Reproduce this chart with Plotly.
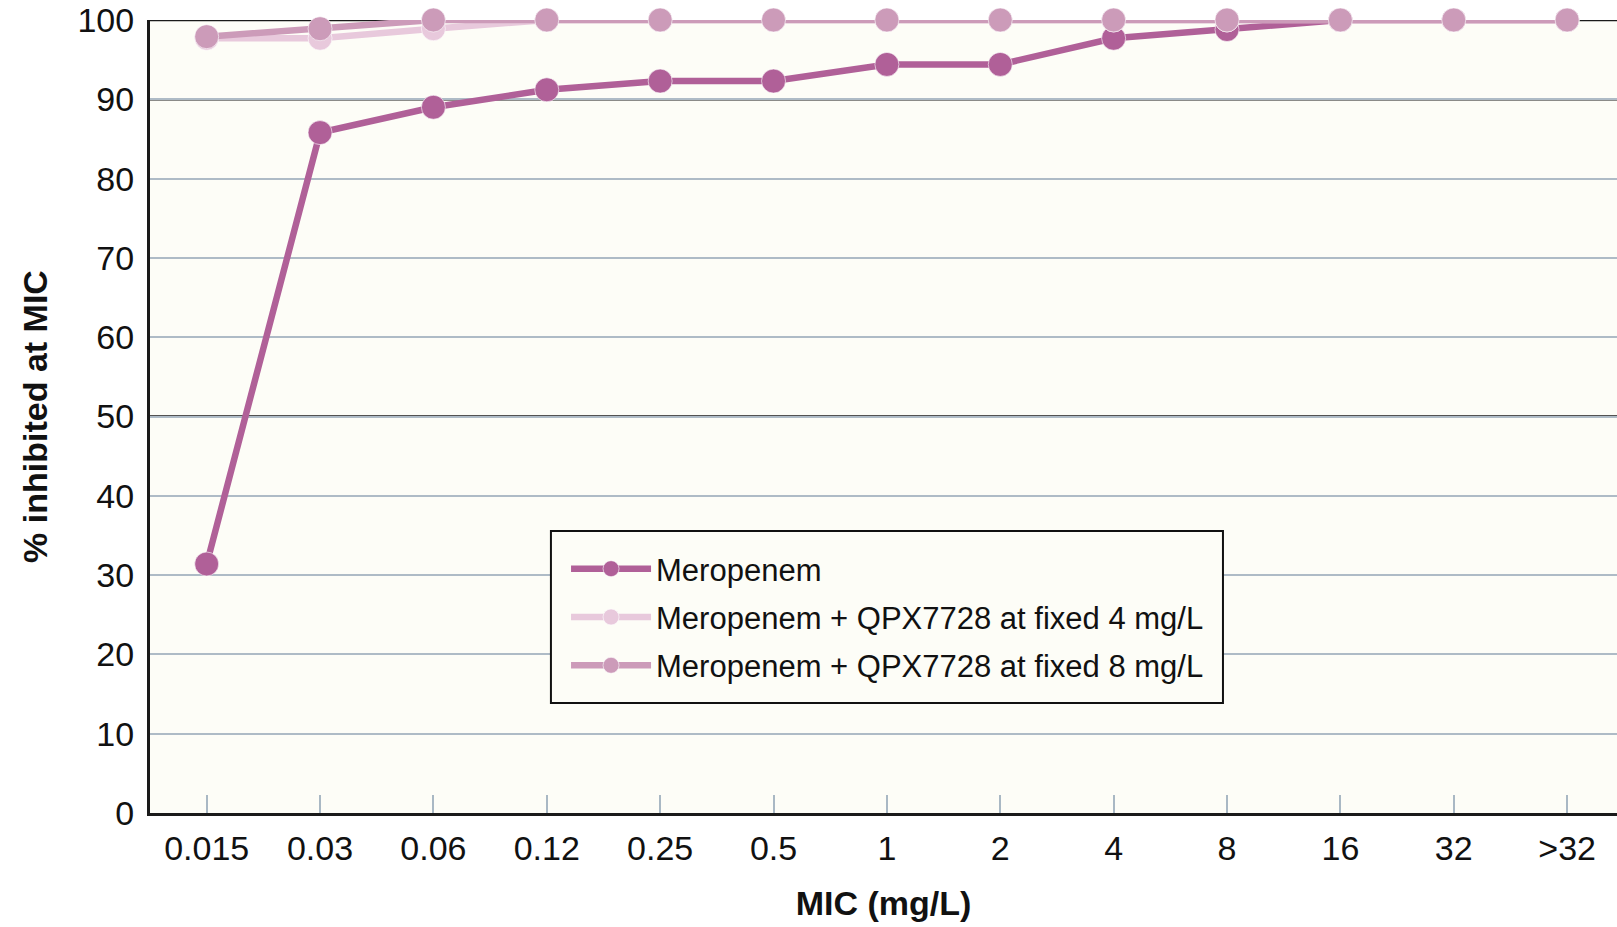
import plotly.graph_objects as go

mic_labels = ["0.015", "0.03", "0.06", "0.12", "0.25", "0.5", "1", "2", "4", "8", "16", "32", ">32"]
meropenem = [31.4, 85.8, 89.0, 91.2, 92.3, 92.3, 94.4, 94.4, 97.7, 98.8, 100, 100, 100]
mero_qpx4 = [97.7, 97.7, 98.9, 100, 100, 100, 100, 100, 100, 100, 100, 100, 100]
mero_qpx8 = [97.9, 98.9, 100, 100, 100, 100, 100, 100, 100, 100, 100, 100, 100]
y_ticks = [0, 10, 20, 30, 40, 50, 60, 70, 80, 90, 100]
dark_grid = [50, 90, 100]

series = [
    ("Meropenem", meropenem, "#b06098"),
    ("Meropenem + QPX7728 at fixed 4 mg/L", mero_qpx4, "#e8c9dc"),
    ("Meropenem + QPX7728 at fixed 8 mg/L", mero_qpx8, "#cc9bb9"),
]

FONT = "Liberation Sans Narrow, Arial Narrow, Liberation Sans, Arial, sans-serif"
BG = "#fdfdf7"
x_idx = list(range(len(mic_labels)))

fig = go.Figure()
for i, (name, vals, col) in enumerate(series):
    fig.add_trace(go.Scatter(
        x=x_idx, y=vals, name=name, mode="lines+markers",
        legendgroup=f"g{i}",
        line=dict(color=col, width=6.5),
        marker=dict(color=col, size=24, line=dict(color="rgba(255,255,255,0.6)", width=1)),
        cliponaxis=False,
    ))

shapes = []
for g in dark_grid:
    shapes.append(dict(type="line", xref="paper", x0=0, x1=1, yref="y", y0=g, y1=g,
                       line=dict(color="#1a1a1a", width=2.5), layer="below"))
# legend frame
shapes.append(dict(type="rect", xref="paper", yref="paper",
                   x0=0.2733, x1=0.7314, y0=0.1387, y1=0.3556,
                   fillcolor=BG, line=dict(color="#111111", width=2), layer="above"))

fig.update_layout(
    width=1617, height=927,
    margin=dict(l=150, r=0, t=20, b=114),
    paper_bgcolor="white",
    plot_bgcolor=BG,
    font=dict(family=FONT, color="#111111", size=34),
    showlegend=True,
    shapes=shapes,
    legend=dict(
        x=0.2836, y=0.3417, xanchor="left", yanchor="top",
        bgcolor="rgba(0,0,0,0)", borderwidth=0,
        font=dict(family=FONT, size=31, color="#111111"),
        itemwidth=80, tracegroupgap=5,
    ),
    xaxis=dict(
        range=[-0.5, 12.44],
        tickmode="array", tickvals=x_idx, ticktext=mic_labels,
        ticks="inside", ticklen=18, tickwidth=2, tickcolor="#a9b8c4",
        showgrid=False, zeroline=False, ticklabelstandoff=3,
        showline=True, linecolor="#1a1a1a", linewidth=3,
        tickfont=dict(size=34),
        title=dict(text="<b>MIC (mg/L)</b>", font=dict(size=34), standoff=26),
    ),
    yaxis=dict(
        range=[0, 100.001],
        tickmode="array", tickvals=y_ticks,
        ticks="", showgrid=True, gridcolor="#aebbc6", gridwidth=2,
        zeroline=False, ticklabelstandoff=6,
        showline=True, linecolor="#1a1a1a", linewidth=3,
        tickfont=dict(size=34),
        title=dict(text="<b>% inhibited at MIC</b>", font=dict(size=34), standoff=20),
    ),
)

fig.write_html("out.html", config={"displayModeBar": False},
               post_script="document.body.style.margin='0';")
